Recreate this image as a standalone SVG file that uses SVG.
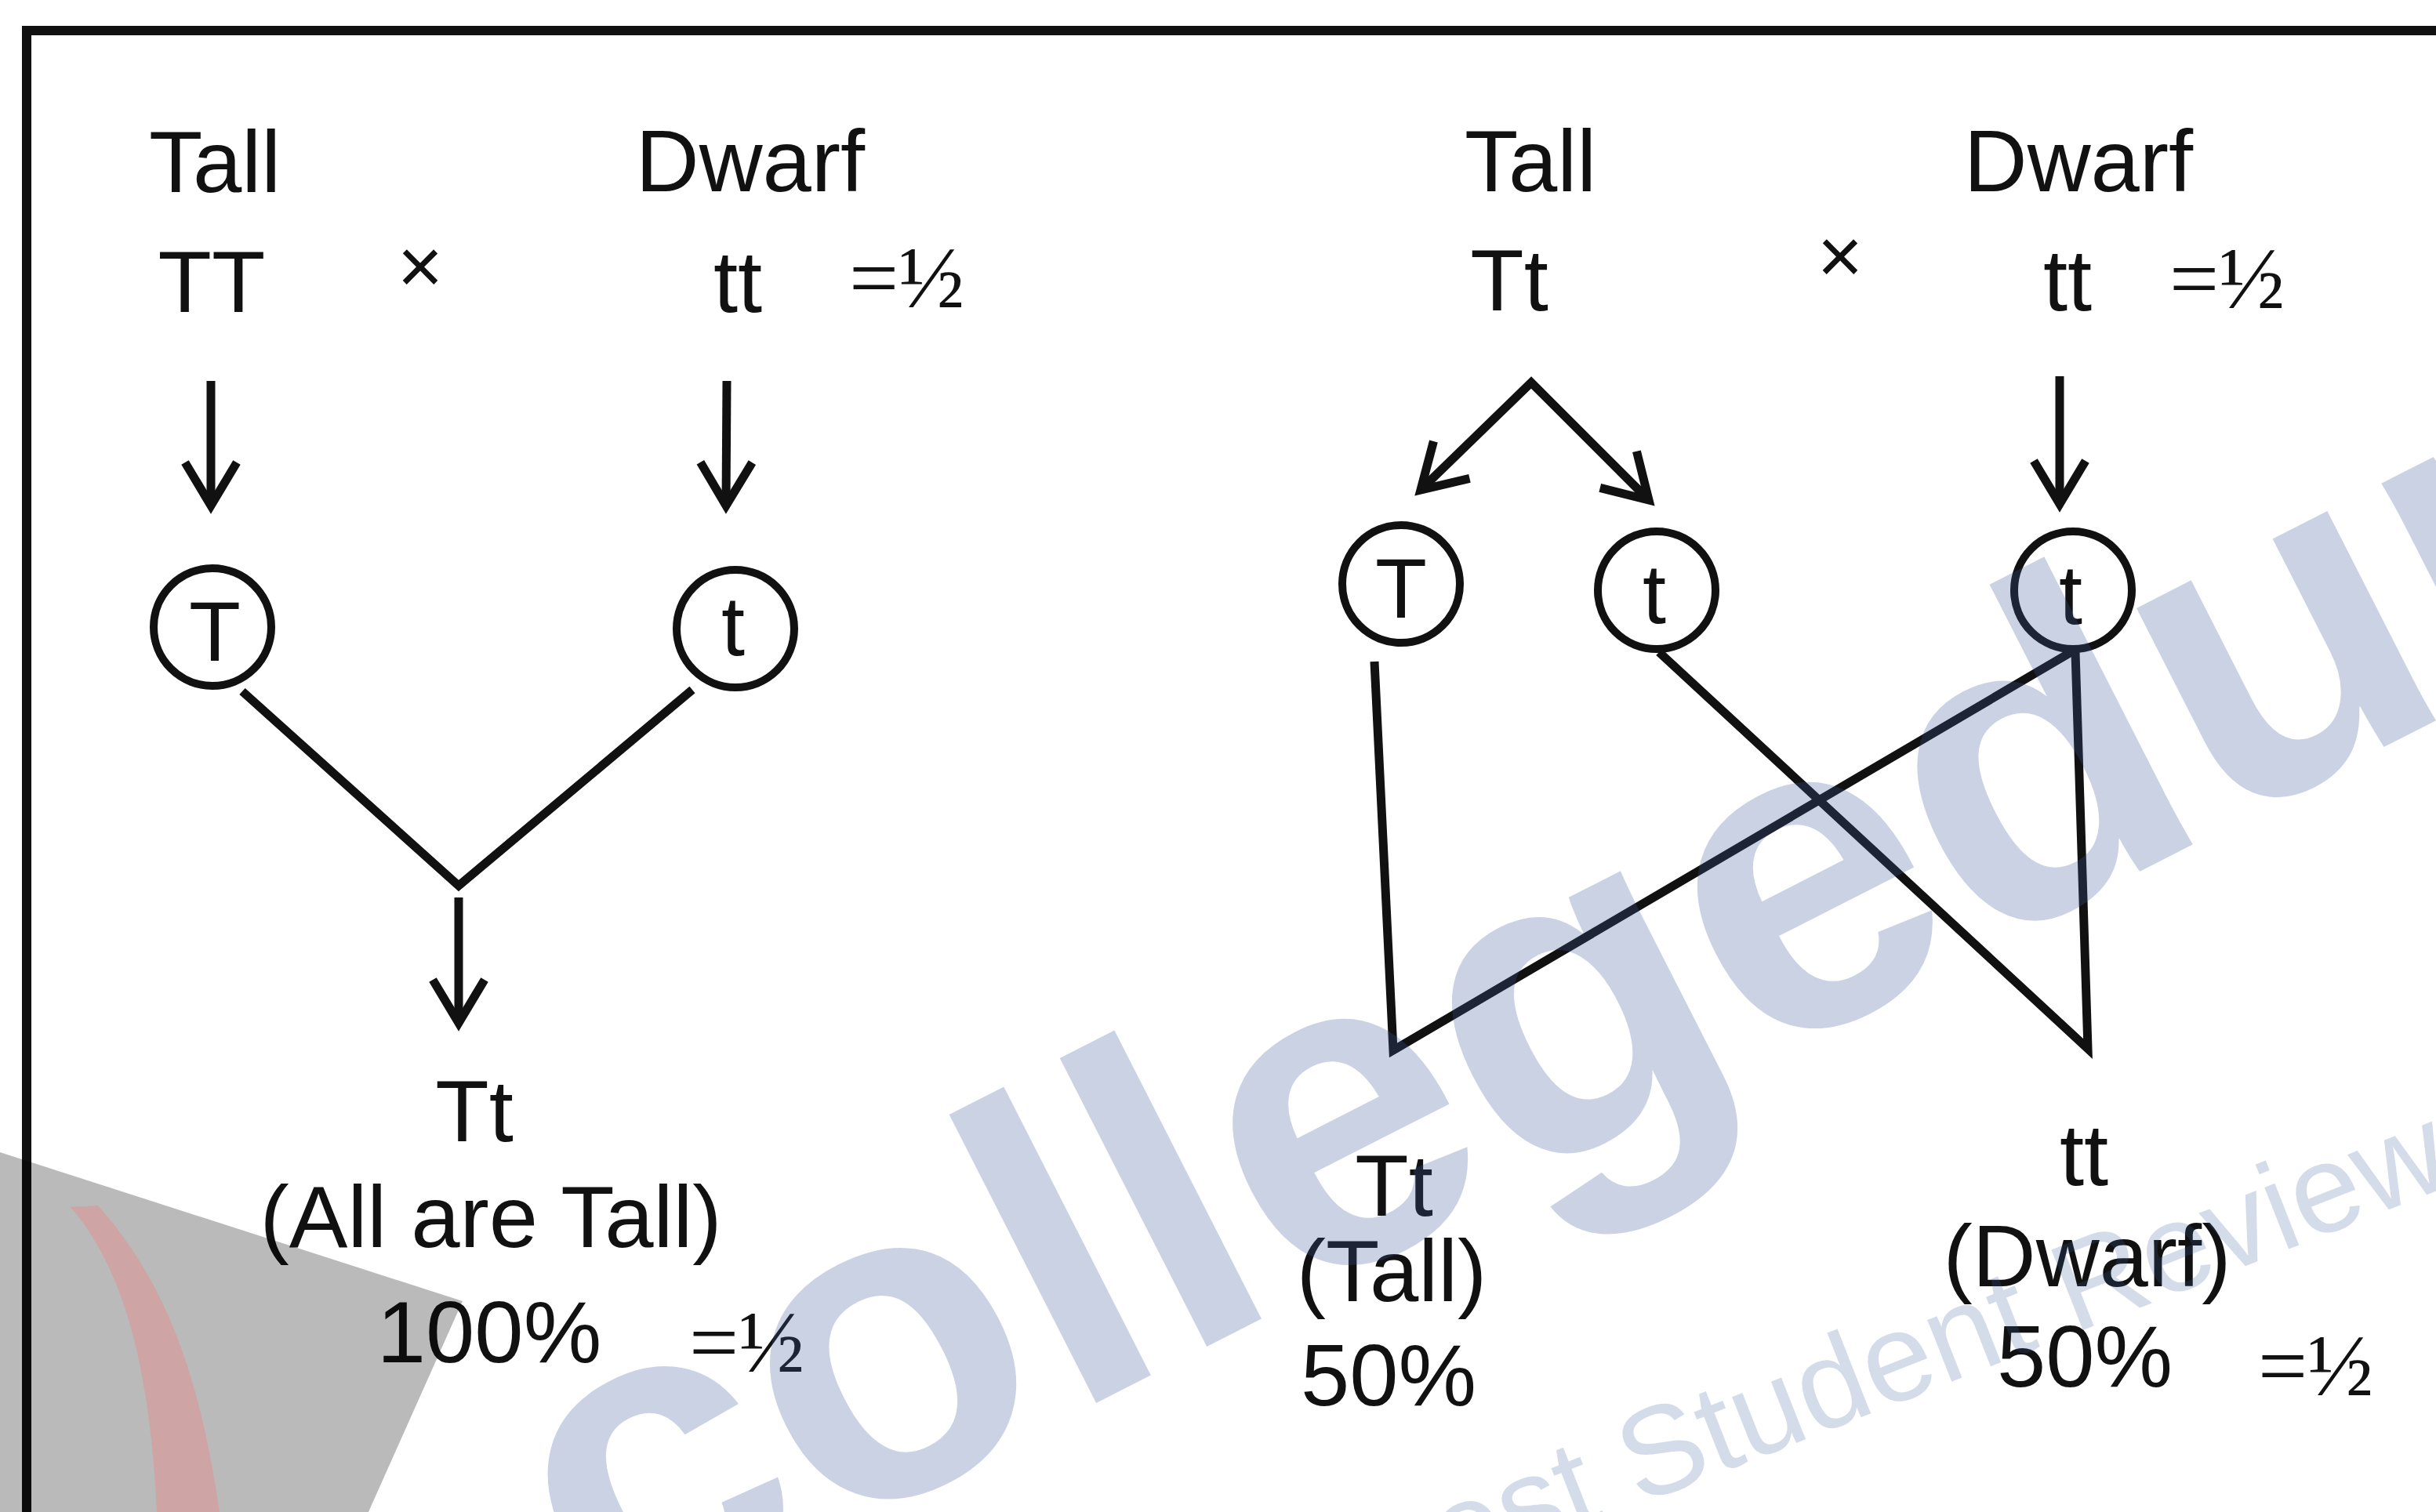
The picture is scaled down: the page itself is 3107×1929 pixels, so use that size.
<svg xmlns="http://www.w3.org/2000/svg" width="3107" height="1929" viewBox="0 0 3107 1929">
<style>
.lbl{font-family:"Liberation Sans",Arial,sans-serif;font-size:112px;fill:#111;text-anchor:middle}
.gl{font-family:"Liberation Sans",Arial,sans-serif;font-size:108px;fill:#111;text-anchor:middle}
.frac{font-family:"Liberation Serif","Times New Roman",serif;font-size:112px;fill:#111}
.times{font-family:"Liberation Sans",Arial,sans-serif;font-size:100px;fill:#111;text-anchor:middle}
.node{fill:none;stroke:#111;stroke-width:10}
.ln{fill:none;stroke:#111;stroke-width:11;stroke-linejoin:miter;stroke-miterlimit:10}
.wm{font-family:"Liberation Sans",Arial,sans-serif;fill:#3a5a9a}
</style>
<defs>
<marker id="ah" markerUnits="userSpaceOnUse" viewBox="-80 -50 100 100" markerWidth="100" markerHeight="100" refX="0" refY="0" orient="auto-start-reverse" overflow="visible">
<path d="M -55 -33 L 0 0 L -55 33" fill="none" stroke="#111" stroke-width="11" stroke-linejoin="miter"/>
</marker>
</defs>
<rect width="3107" height="1929" fill="#fff"/>
<path d="M 34 1929 L 34 39 L 3107 39" fill="none" stroke="#111" stroke-width="12"/>

<g id="left-parents">
<text class="lbl" x="274" y="245">Tall</text>
<text class="lbl" x="957" y="244">Dwarf</text>
<text class="lbl" x="270" y="398">TT</text>
<text class="times" x="536" y="374">×</text>
<text class="lbl" x="941" y="398">tt</text>
<text class="frac" x="1083" y="392">=½</text>
</g>
<g id="left-gamete-T"><circle class="node" cx="271" cy="800" r="75"/><text class="gl" x="274" y="843">T</text></g>
<g id="left-gamete-t"><circle class="node" cx="938" cy="802" r="75"/><text class="gl" x="935" y="836">t</text></g>
<g id="left-offspring">
<text class="lbl" x="605" y="1456">Tt</text>
<text class="lbl" x="626" y="1591">(All are Tall)</text>
<text class="lbl" x="624" y="1738">100%</text>
<text class="frac" x="879" y="1750">=½</text>
</g>

<g id="right-parents">
<text class="lbl" x="1952" y="244">Tall</text>
<text class="lbl" x="2651" y="244">Dwarf</text>
<text class="lbl" x="1925" y="396">Tt</text>
<text class="times" x="2347" y="361">×</text>
<text class="lbl" x="2637" y="396">tt</text>
<text class="frac" x="2767" y="393">=½</text>
</g>
<g id="right-gamete-T"><circle class="node" cx="1787" cy="745" r="75"/><text class="gl" x="1787" y="788">T</text></g>
<g id="right-gamete-t1"><circle class="node" cx="2113" cy="753" r="75"/><text class="gl" x="2110" y="795">t</text></g>
<g id="right-gamete-t2"><circle class="node" cx="2644" cy="753" r="75"/><text class="gl" x="2641" y="796">t</text></g>
<g id="right-offspring-Tt">
<text class="lbl" x="1778" y="1551">Tt</text>
<text class="lbl" x="1775" y="1660">(Tall)</text>
<text class="lbl" x="1771" y="1793">50%</text>
</g>
<g id="right-offspring-tt">
<text class="lbl" x="2658" y="1512">tt</text>
<text class="lbl" x="2662" y="1641">(Dwarf)</text>
<text class="lbl" x="2659" y="1769">50%</text>
<text class="frac" x="2880" y="1780">=½</text>
</g>

<g id="connectors">
<path class="ln" d="M 269 486 L 269 645" marker-end="url(#ah)"/>
<path class="ln" d="M 927 486 L 926 645" marker-end="url(#ah)"/>
<path class="ln" d="M 309 882 L 585 1130 L 883 880"/>
<path class="ln" d="M 585 1145 L 585 1305" marker-end="url(#ah)"/>
<path class="ln" d="M 1812 625 L 1953 488 L 2103 638" marker-start="url(#ah)" marker-end="url(#ah)"/>
<path class="ln" d="M 2627 480 L 2627 643" marker-end="url(#ah)"/>
<path class="ln" d="M 1753 844 L 1777 1340 L 2645 830"/>
<path class="ln" d="M 2116 832 L 2663 1338 L 2647 832"/>
</g>

<g id="watermark">
<polygon points="0,1470 590,1660 470,1929 0,1929" fill="#000" fill-opacity="0.27"/>
<path d="M 90 1540 C 150 1610 190 1720 200 1929 L 280 1929 C 255 1760 215 1640 125 1538 Z" fill="#ff7070" fill-opacity="0.3"/>
<text class="wm" x="770" y="2110" transform="rotate(-27 770 2110)" font-weight="bold" font-size="570" fill-opacity="0.27">collegedunia</text>
<text class="wm" x="1552" y="2132" transform="rotate(-21.5 1552 2132)" font-size="160" fill-opacity="0.22">Largest Student Review Platform</text>
</g>
</svg>
